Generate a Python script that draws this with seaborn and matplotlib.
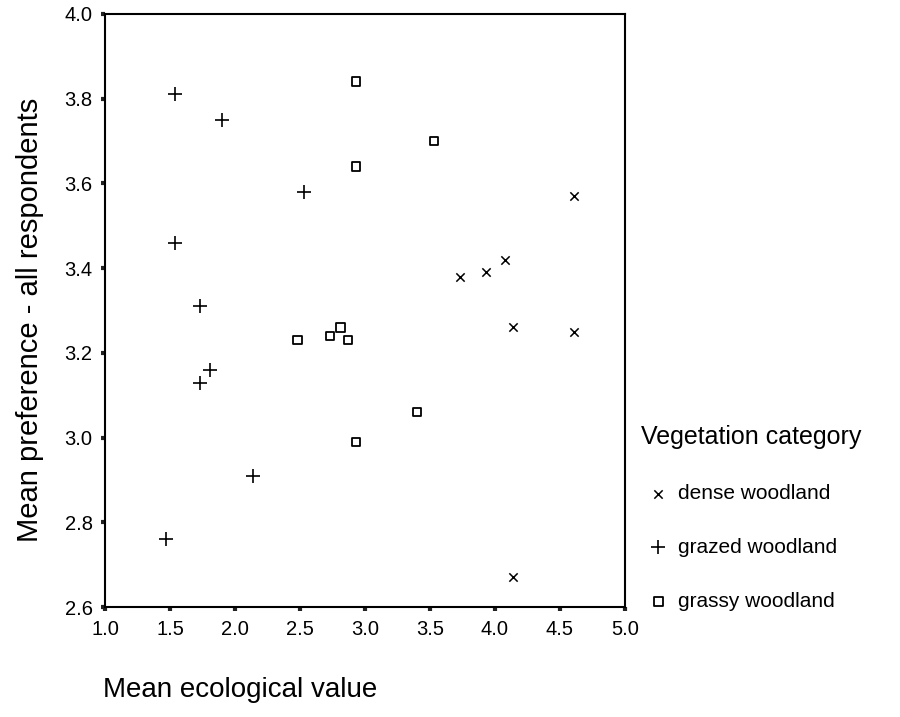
import pandas as pd
import matplotlib.pyplot as plt
import seaborn as sns

# Values
dense_x = [3.73, 3.93, 4.08, 4.61, 4.14, 4.61, 4.14]
dense_y = [3.38, 3.39, 3.42, 3.57, 3.26, 3.25, 2.67]

grazed_x = [1.54, 1.90, 2.53, 1.54, 1.73, 1.81, 1.73, 2.14, 1.47]
grazed_y = [3.81, 3.75, 3.58, 3.46, 3.31, 3.16, 3.13, 2.91, 2.76]

grassy_x = [2.93, 3.53, 2.93, 2.48, 2.73, 2.81, 2.87, 3.40, 2.93]
grassy_y = [3.84, 3.70, 3.64, 3.23, 3.24, 3.26, 3.23, 3.06, 2.99]

categories = ['dense woodland', 'grazed woodland', 'grassy woodland']
x_ticks = [1.0, 1.5, 2.0, 2.5, 3.0, 3.5, 4.0, 4.5, 5.0]
y_ticks = [2.6, 2.8, 3.0, 3.2, 3.4, 3.6, 3.8, 4.0]

df = pd.concat([
    pd.DataFrame({'eco': dense_x, 'pref': dense_y, 'cat': categories[0]}),
    pd.DataFrame({'eco': grazed_x, 'pref': grazed_y, 'cat': categories[1]}),
    pd.DataFrame({'eco': grassy_x, 'pref': grassy_y, 'cat': categories[2]}),
])

sns.set_theme(style='white')
plt.rcParams['font.family'] = ['Liberation Sans', 'DejaVu Sans']
plt.rcParams['text.color'] = 'black'
plt.rcParams['axes.labelcolor'] = 'black'
plt.rcParams['xtick.color'] = 'black'
plt.rcParams['ytick.color'] = 'black'

fig = plt.figure(figsize=(9, 7.17), dpi=100)
ax = fig.add_axes([0.1167, 0.1534, 0.5777, 0.8271])

# line-art and filled markers can't be mixed in one seaborn call
sns.scatterplot(data=df[df['cat'] == categories[0]], x='eco', y='pref', ax=ax,
                marker='x', s=36, color='black', linewidth=1.1, label=categories[0])
sns.scatterplot(data=df[df['cat'] == categories[1]], x='eco', y='pref', ax=ax,
                marker='+', s=90, color='black', linewidth=1.2, label=categories[1])
sns.scatterplot(data=df[df['cat'] == categories[2]], x='eco', y='pref', ax=ax,
                marker='s', s=38, facecolor='none', edgecolor='black', linewidth=1.3,
                label=categories[2])

ax.set_xlim(1.0, 5.0)
ax.set_ylim(2.6, 4.0)
ax.set_xticks(x_ticks)
ax.set_yticks(y_ticks)
ax.set_xticklabels([f'{v:.1f}' for v in x_ticks])
ax.set_yticklabels([f'{v:.1f}' for v in y_ticks])
ax.tick_params(axis='both', direction='out', length=3, width=3, color='#222222',
               labelsize=14.5, pad=6, labelcolor='black', bottom=True, left=True)
for sp in ax.spines.values():
    sp.set_color('black')
    sp.set_linewidth(1.5)
ax.set_xlabel('')
ax.set_ylabel('')

fig.text(103 / 900, 1 - 690 / 717, 'Mean ecological value', fontsize=20,
         ha='left', va='center')
fig.text(30 / 900, 1 - 320 / 717, 'Mean preference - all respondents', fontsize=21,
         rotation=90, ha='center', va='center')

leg = ax.legend(title='Vegetation category', loc='upper left',
                bbox_to_anchor=(633 / 900, 1 - 417 / 717),
                bbox_transform=fig.transFigure, frameon=False, fontsize=15,
                title_fontsize=18, labelspacing=1.67, handletextpad=0.15,
                handlelength=1.63, alignment='left', borderaxespad=0)

fig.savefig('out.png', dpi=100)
